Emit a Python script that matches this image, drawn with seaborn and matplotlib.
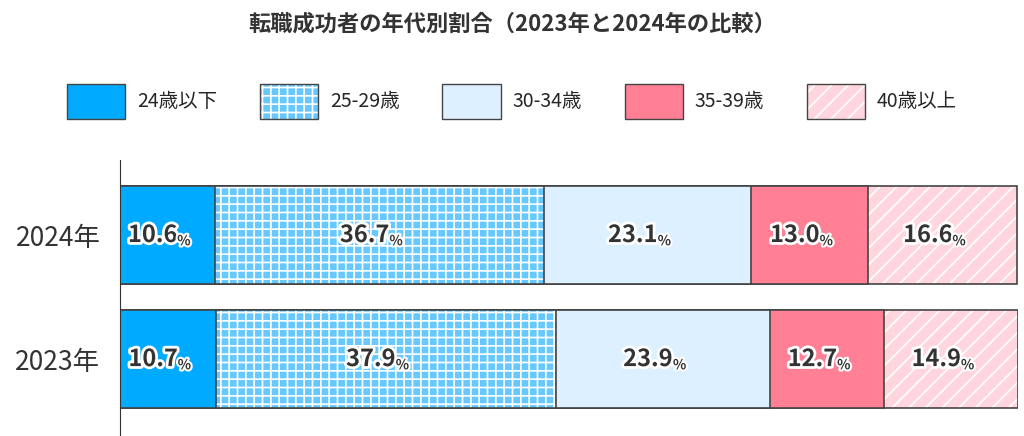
import matplotlib
matplotlib.use("Agg")
import matplotlib.pyplot as plt
import matplotlib.patheffects as pe
from matplotlib.patches import Patch
from matplotlib.colors import to_rgba
import seaborn as sns
import pandas as pd
import numpy as np

years = ["2024年", "2023年"]
categories = ["24歳以下", "25-29歳", "30-34歳", "35-39歳", "40歳以上"]
v2024 = [10.6, 36.7, 23.1, 13.0, 16.6]
v2023 = [10.7, 37.9, 23.9, 12.7, 14.9]
colors = ["#00AAFF", "#66C8FF", "#DDF0FF", "#FF8095", "#FFD6DE"]
hatches = [None, "++", None, None, "//"]
title = "転職成功者の年代別割合（2023年と2024年の比較）"

sns.set_style("white")
plt.rcParams["font.family"] = ["Noto Sans CJK JP", "DejaVu Sans"]
plt.rcParams["hatch.linewidth"] = 1.2
WHITE = to_rgba("white")

fig = plt.figure(figsize=(10.24, 4.36), dpi=100)
ax = fig.add_axes([0.117, 0.0, 0.877, 0.633])

vals = np.array([v2024, v2023])
cum = vals.cumsum(axis=1)
for i in range(len(categories) - 1, -1, -1):
    df = pd.DataFrame({"year": years, "end": cum[:, i]})
    sns.barplot(data=df, x="end", y="year", orient="h", color=colors[i],
                saturation=1, width=0.79, edgecolor="#444444", linewidth=1.2, ax=ax)
    for p in ax.patches[-2:]:
        if hatches[i]:
            p.set_hatch(hatches[i])
            p._hatch_color = WHITE
for r in range(2):
    start = 0
    for i in range(len(categories)):
        mid = start + vals[r, i] / 2 + 1.1
        ax.text(mid, r, f"{vals[r, i]:.1f}", ha="right", va="center", fontsize=17,
                fontweight="bold", color="#333333",
                path_effects=[pe.withStroke(linewidth=4, foreground="white")])
        ax.text(mid, r + 0.05, "%", ha="left", va="center", fontsize=10,
                fontweight="bold", color="#333333",
                path_effects=[pe.withStroke(linewidth=3, foreground="white")])
        start += vals[r, i]

ax.set_xlim(0, 100.1)
ax.set_ylim(1.62, -0.605)
ax.set_xlabel("")
ax.set_ylabel("")
ax.set_xticks([])
ax.tick_params(axis="y", labelsize=19, length=0, pad=14)
for lab in ax.get_yticklabels():
    lab.set_color("#333333")
for s in ["top", "right", "bottom"]:
    ax.spines[s].set_visible(False)
ax.spines["left"].set_color("#333333")

handles = [Patch(facecolor=c, edgecolor="#444444", hatch=h, label=l)
           for c, h, l in zip(colors, hatches, categories)]
leg = fig.legend(handles=handles, loc="center", bbox_to_anchor=(0.5, 0.768), ncol=5,
                 frameon=False, fontsize=14, handlelength=3.0, handleheight=2.4,
                 columnspacing=2.2, handletextpad=0.6)
for p in leg.get_patches():
    if p.get_hatch():
        p._hatch_color = WHITE
fig.text(0.5, 0.945, title, ha="center", va="center", fontsize=16,
         fontweight="bold", color="#333333")
fig.savefig("out.png", dpi=100, facecolor="white")
